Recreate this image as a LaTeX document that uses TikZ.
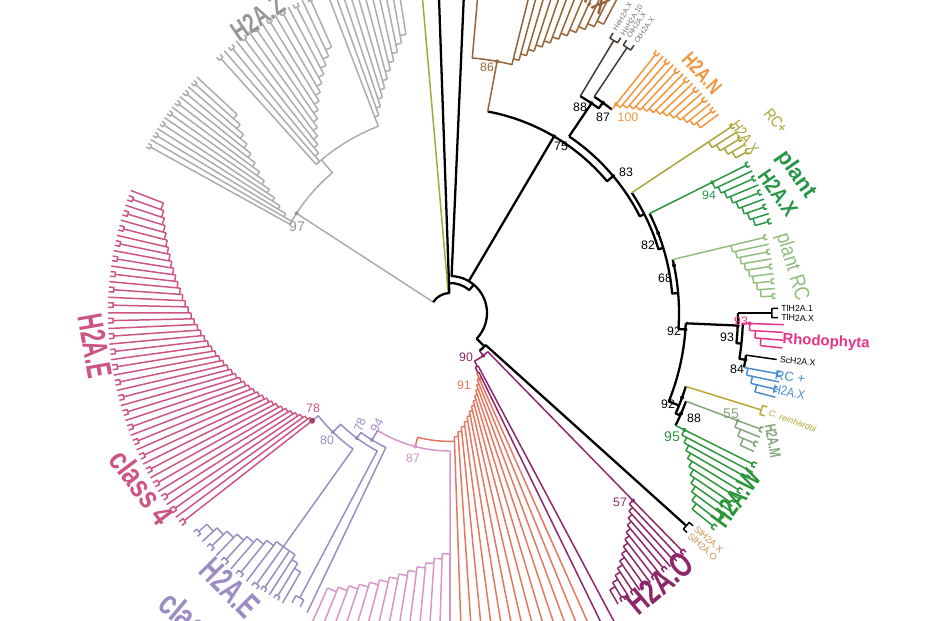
\documentclass[tikz,border=0pt]{standalone}
\usepackage{fontspec}
\setmainfont{Liberation Sans}

\definecolor{zgray}{RGB}{172,172,172}
\definecolor{zgrayt}{RGB}{150,150,150}
\definecolor{epink}{RGB}{205,85,130}
\definecolor{elav}{RGB}{155,140,195}
\definecolor{eorch}{RGB}{215,150,200}
\definecolor{coral}{RGB}{228,120,95}
\definecolor{opurp}{RGB}{140,40,105}
\definecolor{xbrown}{RGB}{150,100,55}
\definecolor{darkleaf}{RGB}{70,55,45}
\definecolor{norange}{RGB}{240,150,60}
\definecolor{olive}{RGB}{170,165,55}
\definecolor{pgreen}{RGB}{40,150,70}
\definecolor{rcgreen}{RGB}{145,190,125}
\definecolor{rhodo}{RGB}{230,50,135}
\definecolor{rcblue}{RGB}{75,140,205}
\definecolor{wgreen}{RGB}{45,150,60}
\definecolor{mgreen}{RGB}{135,165,125}
\definecolor{creol}{RGB}{185,165,50}
\definecolor{slorange}{RGB}{205,145,80}
\definecolor{hetext}{RGB}{120,120,120}

% ladder clade: style, first angle, last angle, leaves, root radius, step, tip radius, fork depth
\newcommand{\comb}[8]{%
  \pgfmathsetmacro{\cmda}{(#3-(#2))/(#4-1)}%
  \pgfmathsetmacro{\cmw}{0.3*\cmda}%
  \pgfmathsetmacro{\cmout}{#7-#8}%
  \foreach \i in {1,...,#4}{%
    \pgfmathsetmacro{\cma}{#2+(\i-1)*\cmda}%
    \pgfmathsetmacro{\cmb}{\cma+\cmda}%
    \pgfmathsetmacro{\cmin}{#5+max(\i-2,0)*#6}%
    \pgfmathsetmacro{\cmnd}{#5+(\i-1)*#6}%
    \pgfmathsetmacro{\cmL}{\cma-\cmw}%
    \pgfmathsetmacro{\cmR}{\cma+\cmw}%
    \ifnum\i<#4\relax
      \draw[#1] (\cma:\cmnd) arc[start angle=\cma, end angle=\cmb, radius=\cmnd];
    \fi
    \ifodd\i\relax
      \ifdim #8pt>0pt
        \draw[#1] (\cma:\cmin) -- (\cma:\cmout);
        \draw[#1] (\cmL:#7) -- (\cmL:\cmout) arc[start angle=\cmL, end angle=\cmR, radius=\cmout] -- (\cmR:#7);
      \else
        \draw[#1] (\cma:\cmin) -- (\cma:#7);
      \fi
    \else
      \draw[#1] (\cma:\cmin) -- (\cma:#7);
    \fi
  }}

% fork at a tip: style, angle, fork radius, tip radius
\newcommand{\cherry}[4]{%
  \pgfmathsetmacro{\cmL}{#2-0.8}\pgfmathsetmacro{\cmR}{#2+0.8}%
  \draw[#1] (\cmL:#4) -- (\cmL:#3) arc[start angle=\cmL, end angle=\cmR, radius=#3] -- (\cmR:#4);}

\begin{document}
\begin{tikzpicture}[x=0.02cm, y=-0.02cm, line join=round,
    br/.style={line width=0.85pt},
    bb/.style={line width=1.3pt, black},
    big/.style={inner sep=0pt, font=\fontsize{#1}{#1}\selectfont\bfseries},
    reg/.style={inner sep=0pt, font=\fontsize{#1}{#1}\selectfont},
    boot/.style={inner sep=0pt, font=\fontsize{7}{7}\selectfont},
    tip/.style={inner sep=0pt, anchor=west, font=\fontsize{5}{5}\selectfont}]
    \useasboundingbox (0,0) rectangle (930,620);
    \clip (0,0) rectangle (930,620);

    \begin{scope}[shift={(450,313)}]
    % H2A.Z
    \draw[br, zgray] (213:20) -- (213:183);
    \draw[br, zgray] (209:183) arc[start angle=209, end angle=230, radius=183] -- (230:200);
    \draw[br, zgray] (228:200) arc[start angle=228, end angle=249, radius=200] -- (249:210);
    \comb{br, zgray}{209}{223}{14}{183}{9}{346}{4}
    \comb{br, zgray}{228}{246}{15}{200}{7}{346}{4}
    \comb{br, zgray}{249}{261}{11}{210}{8}{350}{4}

    % root and long top lines
    \draw[br, olive] (265:20) -- (265:420);
    \draw[bb] (213:20) arc[start angle=213, end angle=268, radius=20] -- (268:30) arc[start angle=268, end angle=310, radius=30] -- (310:37);
    \draw[bb] (268:30) -- (268:420);
    \draw[bb] (272.5:420) -- (272.5:37) arc[start angle=272.5, end angle=404, radius=37] -- (404:48);
    \draw[bb] (300.5:37) -- (300.5:205);

    % right backbone
    \draw[bb] (-79.4:205) arc[start angle=-79.4, end angle=-40, radius=205] -- (-40:213);
    \draw[bb] (-56:213) arc[start angle=-56, end angle=-27, radius=213] -- (-27:218);
    \draw[bb] (-33.5:218) arc[start angle=-33.5, end angle=-17, radius=218] -- (-17:223);
    \draw[bb] (-26.5:223) arc[start angle=-26.5, end angle=-5, radius=223] -- (-5:229);
    \draw[bb] (-13.5:229) arc[start angle=-13.5, end angle=4, radius=229] -- (4:236);
    \draw[bb] (2.5:236) arc[start angle=2.5, end angle=22, radius=236] -- (22:247);
    \draw[bb] (17.3:247) arc[start angle=17.3, end angle=24, radius=247] -- (24:252);
    \draw[bb] (20.5:252) arc[start angle=20.5, end angle=26.5, radius=252];

    % H2A.X (brown)
    \draw[br, xbrown] (-79.4:205) -- (-79.4:256);
    \draw[br, xbrown] (-85:420) -- (-85:256) arc[start angle=-85, end angle=-76, radius=256] -- (-76:262);
    \comb{br, xbrown}{-76}{-62}{12}{262}{6.5}{400}{0}

    % 88/87 and H2A.N
    \draw[bb] (-56:213) -- (-56:253);
    \draw[bb] (-59:253) arc[start angle=-59, end angle=-54, radius=253] -- (-54:260);
    \draw[bb] (-56.3:260) arc[start angle=-56.3, end angle=-51.5, radius=260];
    \draw[br, darkleaf] (-59:253) -- (-59:318);
    \cherry{br, darkleaf}{-59}{318}{324}
    \draw[br, darkleaf] (-56.3:260) -- (-56.3:319);
    \cherry{br, darkleaf}{-56.3}{319}{325}
    \draw[br, norange] (-51.5:260) -- (-51.5:267);
    \comb{br, norange}{-51.5}{-36.5}{14}{267}{3.7}{334}{4}

    % RC+ H2A.X, plant H2A.X, plant RC
    \draw[br, olive] (-33.5:218) -- (-33.5:310);
    \comb{br, olive}{-33.5}{-28.5}{5}{310}{5}{340}{3}
    \draw[br, pgreen] (-26.5:223) -- (-26.5:293);
    \comb{br, pgreen}{-26.5}{-16}{9}{293}{3.5}{334}{3}
    \draw[br, rcgreen] (-13.5:229) -- (-13.5:289);
    \comb{br, rcgreen}{-13.5}{-3}{9}{289}{3.2}{326}{3}

    % 93 group
    \draw[bb] (2.5:236) -- (2.5:288);
    \draw[bb] (0:288) arc[start angle=0, end angle=6, radius=288] -- (6:293);
    \draw[br, black] (0:288) -- (0:322);
    \cherry{br, black}{0}{322}{328}
    \draw[bb] (2:293) arc[start angle=2, end angle=9, radius=293] -- (9:299);
    \draw[br, rhodo] (2:293) -- (2:300);
    \comb{br, rhodo}{2}{6}{4}{300}{6}{334}{0}
    \draw[bb] (8.1:299) arc[start angle=8.1, end angle=10.5, radius=299];
    \draw[br, black] (8.1:299) -- (8.1:330);
    \draw[br, rcblue] (10.5:299) -- (10.5:303);
    \comb{br, rcblue}{10.5}{14.5}{4}{303}{6}{336}{3}

    % C. reinhardtii, H2A.M, H2A.W
    \draw[br, creol] (17.3:247) -- (17.3:326);
    \cherry{br, creol}{17.3}{326}{331}
    \draw[br, mgreen] (20.5:252) -- (20.5:307);
    \comb{br, mgreen}{20.5}{24.5}{4}{307}{6}{334}{3}
    \draw[br, wgreen] (26.5:252) -- (26.5:262);
    \comb{br, wgreen}{26.5}{39}{11}{262}{5.5}{342}{4}

    % Sl and H2A.O
    \draw[bb] (42:318) -- (42:48) arc[start angle=42, end angle=52, radius=48];
    \cherry{br, black}{42}{318}{323}
    \draw[br, opurp] (52:48) -- (52:54);
    \draw[br, opurp] (45.7:54) arc[start angle=45.7, end angle=63, radius=54] -- (63:60);
    \draw[br, opurp] (62:420) -- (62:60) arc[start angle=62, end angle=65, radius=60] -- (65:66);
    \draw[br, opurp] (64:420) -- (64:66) arc[start angle=64, end angle=66, radius=66];
    \draw[br, opurp] (45.7:54) -- (45.7:262);
    \comb{br, opurp}{45.7}{60}{14}{262}{4.8}{336}{4}

    % coral and orchid
    \draw[br, coral] (66:66) -- (66:72);
    \comb{br, coral}{66}{88}{13}{72}{4.7}{420}{0}
    \draw[br, coral] (88:128.4) arc[start angle=88, end angle=104.6, radius=128.4] -- (104.6:138);
    \draw[br, eorch] (90:241) -- (90:138) arc[start angle=90, end angle=121.6, radius=138];
    \comb{br, eorch}{90}{114}{14}{241}{5}{420}{0}

    % H2A.E lavender
    \draw[br, elav] (121.6:138) -- (121.6:149);
    \draw[br, elav] (115.5:332) -- (115.5:149) arc[start angle=115.5, end angle=126.7, radius=149] -- (126.7:156);
    \draw[br, elav] (117.8:322) -- (117.8:156) arc[start angle=117.8, end angle=134.5, radius=156] -- (134.5:167);
    \cherry{br, elav}{117.8}{322}{330}
    \draw[br, elav] (125.5:287) -- (125.5:167) arc[start angle=125.5, end angle=142, radius=167] -- (142:175);
    \draw[br, elav] (124:287) arc[start angle=124, end angle=125.5, radius=287];
    \comb{br, elav}{125.5}{139}{9}{287}{5}{337}{4}
    \comb{br, elav}{124}{120}{4}{287}{6}{335}{4}

    % H2A.E class 4
    \comb{br, epink}{142}{201}{46}{175}{3}{342}{5}

    % node dots
    \fill[zgrayt] (213:183) circle (2);
    \fill[xbrown] (-79.4:256) circle (2);
    \fill (-59.5:205) circle (2);
    \fill (-56:253) circle (2);
    \fill (-54:260) circle (2);
    \fill[norange] (-51.5:267) circle (2);
    \fill (-40:213) circle (2);
    \fill (-21:223) circle (2);
    \fill[pgreen] (-26.5:293) circle (2);
    \fill (-12:229) circle (2);
    \fill (4:236) circle (2);
    \fill (2.5:288) circle (2);
    \fill[rhodo] (2:300) circle (2);
    \fill (9:299) circle (2);
    \fill (20:247) circle (2);
    \fill (23.5:252) circle (2);
    \fill[wgreen] (26.5:262) circle (2);
    \fill[mgreen] (20.5:307) circle (2);
    \fill[opurp] (45.7:262) circle (2);
    \fill[opurp] (52:54) circle (2);
    \fill[coral] (66:72) circle (2);
    \fill[eorch] (104.6:138) circle (2);
    \fill[elav] (121.6:149) circle (2);
    \fill[elav] (126.7:156) circle (2);
    \fill[elav] (134.5:167) circle (2);
    \fill[epink!80!black] (142:175) circle (3);

    % tip names
    \node[tip, hetext, rotate=59.8, font=\fontsize{4.3}{4.3}\selectfont] (he1) at (-59.8:327) {HeH2A.X};
    \node[tip, hetext, rotate=58.2, font=\fontsize{4.3}{4.3}\selectfont] (he2) at (-58.2:327) {HeH2A.10};
    \node[tip, hetext, rotate=57.1, font=\fontsize{4.3}{4.3}\selectfont] (he3) at (-57.1:328) {OlH2A.X};
    \node[tip, hetext, rotate=55.5, font=\fontsize{4.3}{4.3}\selectfont] (he4) at (-55.5:328) {OtH2A.X};
    \node[tip, rotate=0.8] (tl1) at (-0.8:331) {TlH2A.1};
    \node[tip, rotate=-0.8] (tl2) at (0.8:331) {TlH2A.X};
    \node[tip, rotate=-5] (sc) at (8.1:333) {ScH2A.X};
    \node[tip, creol, rotate=-20, font=\fontsize{5}{5}\selectfont\itshape] (cre) at (17.3:334) {C. reinhardtii};
    \node[tip, slorange, rotate=-41.2, font=\fontsize{5.3}{5.3}\selectfont] (sl1) at (41.2:326) {SlH2A.X};
    \node[tip, slorange, rotate=-42.8, font=\fontsize{5.3}{5.3}\selectfont] (sl2) at (42.8:326) {SlH2A.O};
    \end{scope}

    % clade names
    \node[big=16, zgrayt, rotate=34, xscale=0.7] (labZ) at (258,18) {H2A.Z};
    \node[big=15, xbrown, rotate=-40, xscale=0.7] (labXb) at (585,-9) {H2A.X};
    \node[big=12, norange, rotate=-48, xscale=0.75] (labN) at (702,73) {H2A.N};
    \node[reg=9, olive, rotate=-50, xscale=0.85] (labRCo) at (776,121) {RC+};
    \node[reg=9, olive, rotate=-55, xscale=0.8] (labXo) at (745,137) {H2A.X};
    \node[big=12.5, pgreen, rotate=-55] (labPl) at (796,175) {plant};
    \node[big=12.5, pgreen, rotate=-55, xscale=0.8] (labXg) at (778,193) {H2A.X};
    \node[reg=12, rcgreen, rotate=-73, xscale=0.85] (labRC) at (792,267) {plant RC};
    \node[big=8.5, rhodo, rotate=-3] (labRh) at (826,342) {Rhodophyta};
    \node[reg=7.5, rcblue, rotate=-8] (labRCb) at (790,377) {RC +};
    \node[reg=7.5, rcblue, rotate=-12, xscale=0.85] (labXbl) at (789,392) {H2A.X};
    \node[big=9, mgreen, rotate=-80, xscale=0.7] (labM) at (773,441) {H2A.M};
    \node[big=16, wgreen, rotate=54, xscale=0.7] (labW) at (736,498) {H2A.W};
    \node[big=20, opurp, rotate=40, xscale=0.7] (labO) at (660,583) {H2A.O};
    \node[big=20, epink, rotate=-80, xscale=0.62] (labE4) at (95,346) {H2A.E};
    \node[big=18, epink, rotate=-53, xscale=0.8] (labC4) at (142,487) {class 4};
    \node[big=20, elav, rotate=-45, xscale=0.65] (labE) at (230,588) {H2A.E};
    \node[big=20, elav, rotate=-40, xscale=0.75, anchor=west] (labC) at (164,598) {class};

    % bootstrap values
    \node[boot, zgrayt, font=\fontsize{8}{8}\selectfont] (b97) at (297,227) {97};
    \node[boot, xbrown] (b86) at (487,67) {86};
    \node[boot] (b75) at (561,146) {75};
    \node[boot] (b88) at (580,107) {88};
    \node[boot] (b87) at (603,117) {87};
    \node[boot, norange] (b100) at (628,117) {100};
    \node[boot] (b83) at (626,172) {83};
    \node[boot] (b82) at (648,245) {82};
    \node[boot, pgreen] (b94) at (709,195) {94};
    \node[boot] (b68) at (665,278) {68};
    \node[boot] (b92) at (674,331) {92};
    \node[boot] (b93) at (727,337) {93};
    \node[boot, rhodo] (b93p) at (741,321) {93};
    \node[boot] (b84) at (737,369) {84};
    \node[boot] (b92b) at (668,404) {92};
    \node[boot] (b88b) at (694,418) {88};
    \node[boot, wgreen, font=\fontsize{8}{8}\selectfont] (b95) at (672,437) {95};
    \node[boot, mgreen, font=\fontsize{8}{8}\selectfont] (b55) at (731,414) {55};
    \node[boot, opurp] (b57) at (620,502) {57};
    \node[boot, opurp] (b90) at (466,357) {90};
    \node[boot, coral] (b91) at (464,385) {91};
    \node[boot, eorch!80!elav] (b87b) at (413,458) {87};
    \node[boot, elav] (b80) at (327,440) {80};
    \node[boot, elav, rotate=70] (b78b) at (360,425) {78};
    \node[boot, elav, rotate=60] (b94b) at (377,425) {94};
    \node[boot, epink] (b78) at (313,408) {78};
\end{tikzpicture}
\end{document}
